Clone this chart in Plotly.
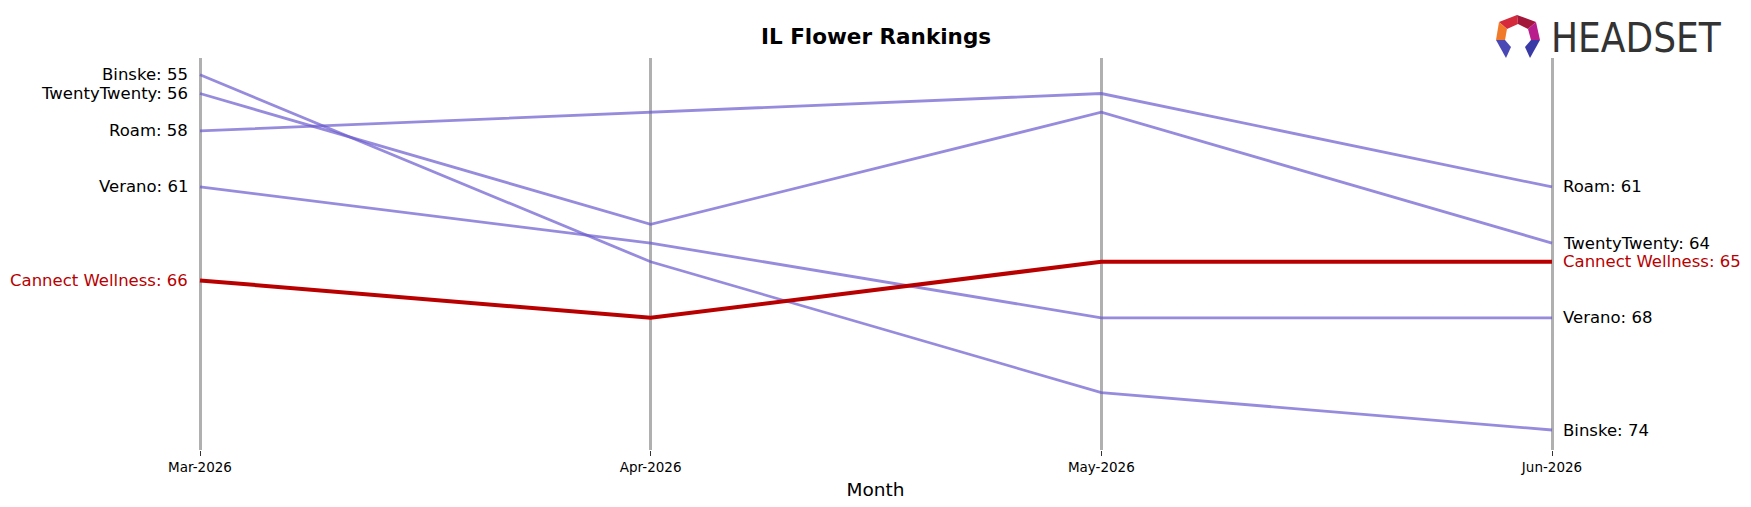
import plotly.graph_objects as go

months = ["Mar-2026", "Apr-2026", "May-2026", "Jun-2026"]
brands = ["Binske", "TwentyTwenty", "Roam", "Verano", "Cannect Wellness"]
ranks = {
    "Binske": [55, 65, 72, 74],
    "TwentyTwenty": [56, 63, 57, 64],
    "Roam": [58, 57, 56, 61],
    "Verano": [61, 64, 68, 68],
    "Cannect Wellness": [66, 68, 65, 65],
}
highlight = "Cannect Wellness"
title = "IL Flower Rankings"
x_title = "Month"

W, H = 1751, 507
ML, MR, MT, MB = 150, 150, 58, 57
PW, PH = W - ML - MR, H - MT - MB

PURPLE = "rgba(106,90,205,0.7)"
RED = "#B80000"
FONT = "DejaVu Sans"

fig = go.Figure()
for b in brands:
    if b == highlight:
        continue
    fig.add_trace(go.Scatter(x=months, y=ranks[b], mode="lines",
                             line=dict(color=PURPLE, width=2.8), hoverinfo="skip",
                             showlegend=False))
fig.add_trace(go.Scatter(x=months, y=ranks[highlight], mode="lines",
                         line=dict(color=RED, width=4), hoverinfo="skip",
                         showlegend=False))

ann = []
for b in brands:
    col = RED if b == highlight else "black"
    ann.append(dict(x=months[0], y=ranks[b][0], xref="x", yref="y",
                    text=f"{b}: {ranks[b][0]}", showarrow=False,
                    xanchor="right", yanchor="middle", xshift=-10,
                    font=dict(family=FONT, size=16.5, color=col)))
    ann.append(dict(x=months[-1], y=ranks[b][-1], xref="x", yref="y",
                    text=f"{b}: {ranks[b][-1]}", showarrow=False,
                    xanchor="left", yanchor="middle", xshift=9,
                    font=dict(family=FONT, size=16.5, color=col)))


def px(x):
    return (x - ML) / PW


def py(y):
    return 1 - (y - MT) / PH


# logo text
ann.append(dict(x=px(1549), y=py(38), xref="paper", yref="paper", text="HEADSET",
                showarrow=False, xanchor="left", yanchor="middle",
                font=dict(family="DejaVu Sans Condensed, Liberation Sans", size=40,
                          color="#333333")))
ann.append(dict(x=px(876), y=py(37), xref="paper", yref="paper", text=f"<b>{title}</b>",
                showarrow=False, xanchor="center", yanchor="middle",
                font=dict(family=FONT, size=21.5, color="black")))

shapes = []


def poly(pts, color):
    d = "M " + " L ".join(f"{px(a):.5f},{py(b):.5f}" for a, b in pts) + " Z"
    shapes.append(dict(type="path", path=d, xref="paper", yref="paper",
                       fillcolor=color, line=dict(width=0), layer="above"))


poly([(1499, 22), (1517, 15), (1518, 24), (1507, 29)], "#D42A3C")
poly([(1517, 15), (1536, 22), (1528, 29), (1518, 24)], "#A3173A")
poly([(1499, 22), (1507, 29), (1505, 40), (1496, 40)], "#F07A2A")
poly([(1536, 22), (1540, 40), (1531, 40), (1528, 29)], "#B81E8C")
poly([(1496, 40), (1505, 40), (1511, 47), (1506, 58)], "#4A48B5")
poly([(1540, 40), (1531, 40), (1525, 47), (1530, 58)], "#3A3AA6")

x0 = -(200 - ML) / (1352 / 3)
x1 = 3 + (W - MR - 1552) / (1352 / 3)

fig.update_layout(
    width=W, height=H,
    margin=dict(l=ML, r=MR, t=MT, b=MB),
    plot_bgcolor="white", paper_bgcolor="white",
    annotations=ann, shapes=shapes,
    xaxis=dict(type="category", range=[x0, x1], showgrid=True, gridcolor="#B0B0B0",
               gridwidth=3, showline=False, zeroline=False, ticks="outside",
               ticklen=5, tickcolor="#333333", tickwidth=1,
               tickfont=dict(family=FONT, size=13.5, color="black"),
               title=dict(text=x_title, font=dict(family=FONT, size=18.5, color="black"),
                          standoff=8)),
    yaxis=dict(range=[75.07, 54.10], showgrid=False, showticklabels=False,
               zeroline=False, showline=False, ticks=""),
    hovermode=False,
)
fig.write_html("out.html")
